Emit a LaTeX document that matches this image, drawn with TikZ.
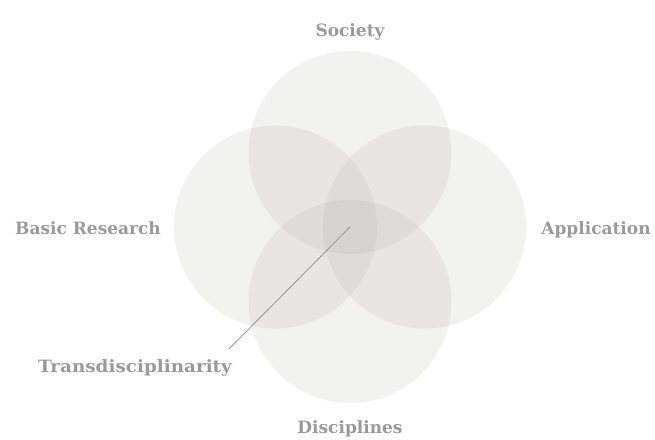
\documentclass[tikz,border=0pt]{standalone}
\usepackage{fontspec}
\setmainfont{DejaVu Serif}
\definecolor{labelgray}{RGB}{154,154,154}
\definecolor{circfill}{RGB}{174,168,166}
\definecolor{linegray}{RGB}{150,150,150}
\begin{document}
\begin{tikzpicture}[x=1pt,y=-1pt,
  venn/.style={circle,minimum size=203pt,inner sep=0pt,fill=circfill,fill opacity=0.15,draw=none},
  lbl/.style={text=labelgray,font=\bfseries\fontsize{17}{19}\selectfont,inner sep=0pt,anchor=base},
  pointer/.style={draw=linegray,line width=0.8pt}]
\useasboundingbox (0,0) rectangle (655,439);
\fill[white] (0,0) rectangle (655,439);
\node[venn] (top) at (350,152.5) {};
\node[venn] (left) at (275.5,227) {};
\node[venn] (right) at (424.5,227) {};
\node[venn] (bottom) at (350,301.5) {};
\coordinate (center) at (350,227);
\coordinate (tip) at (229,349);
\node[lbl] (society) at (350,36) {Society};
\node[lbl] (basic) at (88,234) {Basic Research};
\node[lbl] (application) at (596,234) {Application};
\node[lbl, xscale=1.08] (trans) at (135,372) {Transdisciplinarity};
\node[lbl] (disc) at (350,433) {Disciplines};
\draw[pointer] (center) -- (tip);
\end{tikzpicture}
\end{document}
